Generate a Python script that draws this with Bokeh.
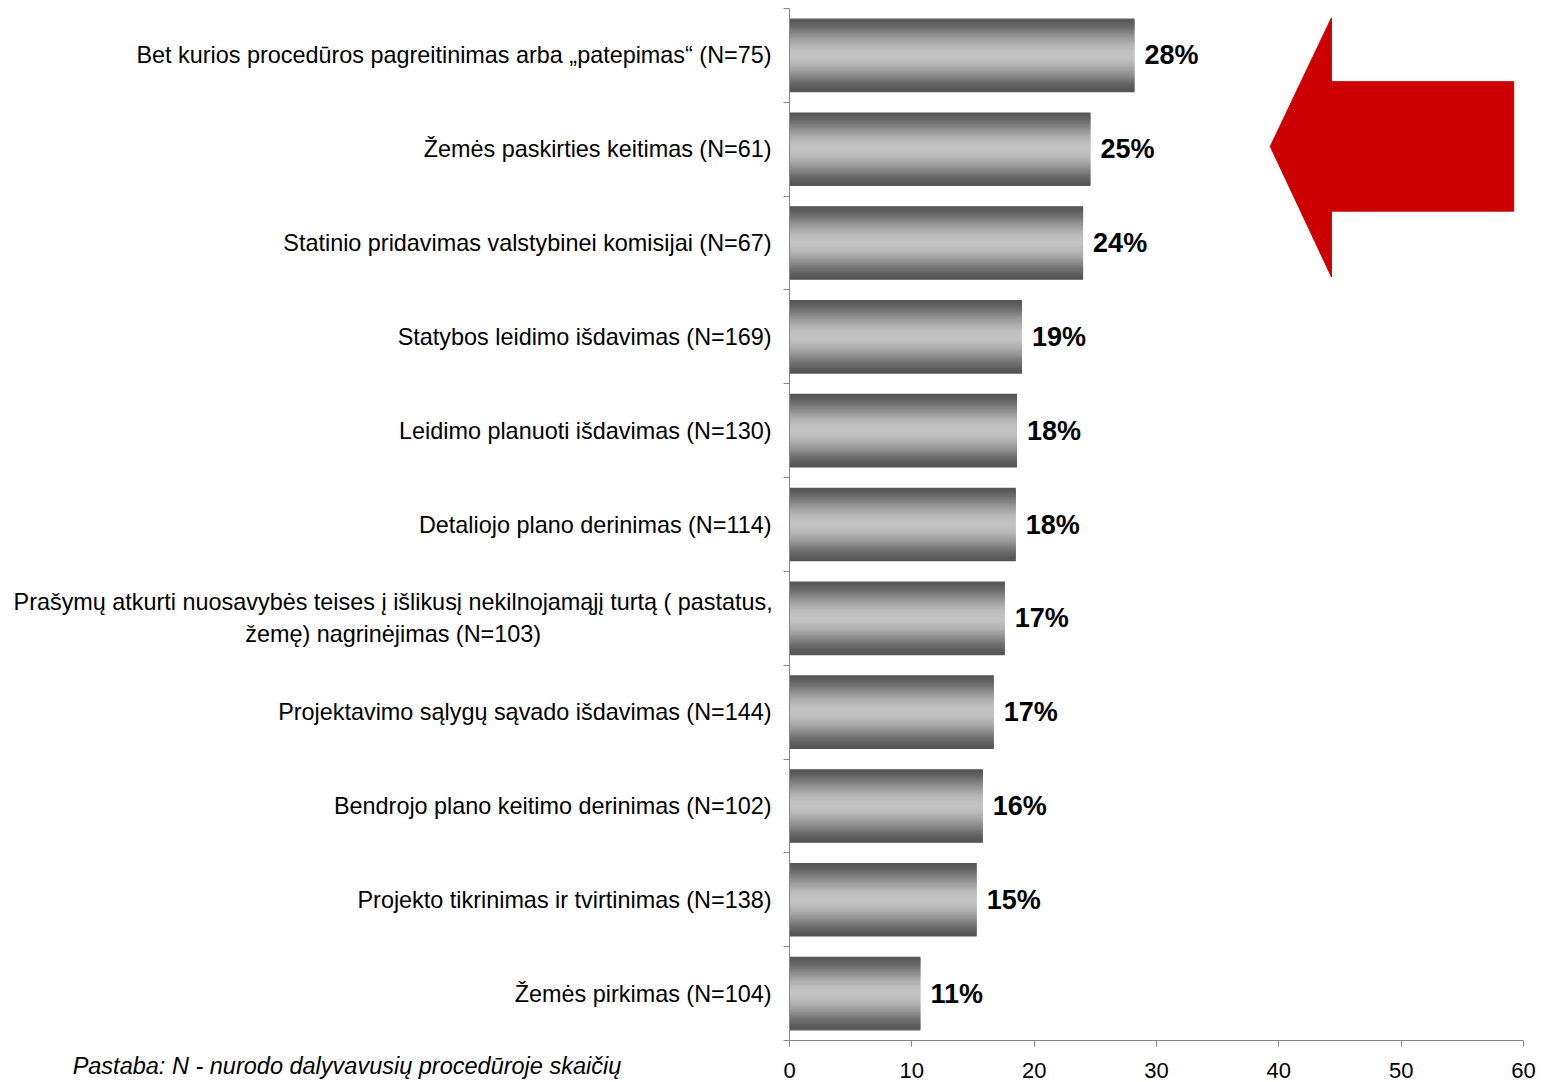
import numpy as np
from bokeh.plotting import figure
from bokeh.models import FixedTicker, Label, Range1d
from bokeh.embed import file_html
from bokeh.resources import INLINE
from bokeh.core.properties import value

# ---------------- data ----------------
categories = [
    "Bet kurios procedūros pagreitinimas arba „patepimas“ (N=75)",
    "Žemės paskirties keitimas (N=61)",
    "Statinio pridavimas valstybinei komisijai (N=67)",
    "Statybos leidimo išdavimas (N=169)",
    "Leidimo planuoti išdavimas (N=130)",
    "Detaliojo plano derinimas (N=114)",
    "Prašymų atkurti nuosavybės teises į išlikusį nekilnojamąjį turtą ( pastatus,\nžemę) nagrinėjimas (N=103)",
    "Projektavimo sąlygų sąvado išdavimas (N=144)",
    "Bendrojo plano keitimo derinimas (N=102)",
    "Projekto tikrinimas ir tvirtinimas (N=138)",
    "Žemės pirkimas (N=104)",
]
values = [28.2, 24.6, 24.0, 19.0, 18.6, 18.5, 17.6, 16.7, 15.8, 15.3, 10.7]
value_labels = ["28%", "25%", "24%", "19%", "18%", "18%", "17%", "17%", "16%", "15%", "11%"]
x_ticks = [0, 10, 20, 30, 40, 50, 60]
note_text = "Pastaba: N - nurodo dalyvavusių procedūroje skaičių"

# decorative arrow outline (data units of the chart)
ARROW_X = [39.3, 44.3, 44.3, 59.2, 59.2, 44.3, 44.3]
ARROW_Y = [9.53, 10.90, 10.22, 10.22, 8.84, 8.84, 8.14]

FONT = "Liberation Sans"
n = len(categories)
centers = [n - 0.5 - i for i in range(n)]
boundaries = [float(i) for i in range(n + 1)]

# layout (pixels): plotting area for the bars
W, H = 1542, 1082
AX_LEFT, AX_RIGHT, AX_TOP, AX_BOTTOM = 789, 1523, 8, 1040
XMAX = 60.0
px_x = (AX_RIGHT - AX_LEFT) / XMAX
px_y = (AX_BOTTOM - AX_TOP) / n
x_lo = -AX_LEFT / px_x
x_hi = XMAX + (W - AX_RIGHT) / px_x
y_hi = n + AX_TOP / px_y
y_lo = -(H - AX_BOTTOM) / px_y

p = figure(
    width=W, height=H, min_border=0,
    x_range=Range1d(x_lo, x_hi), y_range=Range1d(y_lo, y_hi),
    output_backend="svg", toolbar_location=None,
)
p.outline_line_color = None
p.xgrid.visible = False
p.ygrid.visible = False

# gradient bars built from thin strips
BAR_H = 0.785
STRIPS = 60
dark = np.array([0x55, 0x55, 0x55], dtype=float)
light = np.array([0xC2, 0xC2, 0xC2], dtype=float)
ys, rights, hs, cols = [], [], [], []
for k in range(STRIPS):
    t = (k + 0.5) / STRIPS
    f = 0.5 - 0.5 * np.cos(2 * np.pi * t)
    f = f ** 0.8
    c = dark + (light - dark) * f
    col = "#%02x%02x%02x" % tuple(int(round(v)) for v in c)
    step = BAR_H / STRIPS
    off = BAR_H / 2 - (k + 0.5) * step
    for cy, v in zip(centers, values):
        ys.append(cy + off)
        rights.append(v)
        hs.append(step * (2.0 if 0 < k < STRIPS - 1 else 1.0))
        cols.append(col)
p.hbar(y=ys, left=0, right=rights, height=hs, fill_color=cols, line_color=None)

# value labels
p.text(x=values, y=centers, text=value_labels, x_offset=10,
       text_baseline="middle", text_align="left",
       text_font=value(FONT), text_font_style="bold", text_font_size="27px",
       text_color="black")

# red arrow
p.patch(ARROW_X, ARROW_Y, fill_color="#cc0000", line_color="#cc0000")

# axes (placed at data zero inside the frame)
axis_col = "#868686"
long_idx = [i for i, c in enumerate(categories) if "\n" in c][0]
overrides = {c: lab for c, lab in zip(centers, categories)}
overrides[centers[long_idx]] = ""
p.yaxis.fixed_location = 0
p.yaxis.bounds = (0, n)
p.yaxis.ticker = FixedTicker(ticks=centers, minor_ticks=boundaries)
p.yaxis.major_label_overrides = overrides
p.yaxis.major_tick_out = 0
p.yaxis.major_tick_in = 0
p.yaxis.minor_tick_out = 6
p.yaxis.minor_tick_in = 0
p.yaxis.minor_tick_line_color = axis_col
p.yaxis.axis_line_color = axis_col
p.yaxis.major_label_text_font = FONT
p.yaxis.major_label_text_font_size = "23.4px"
p.yaxis.major_label_text_color = "black"
p.yaxis.major_label_standoff = 12

p.xaxis.fixed_location = 0
p.xaxis.bounds = (0, XMAX)
p.xaxis.ticker = FixedTicker(ticks=x_ticks)
p.xaxis.minor_tick_line_color = None
p.xaxis.major_tick_out = 6
p.xaxis.major_tick_in = 0
p.xaxis.major_tick_line_color = axis_col
p.xaxis.axis_line_color = axis_col
p.xaxis.major_label_text_font = FONT
p.xaxis.major_label_text_font_size = "22px"
p.xaxis.major_label_text_color = "black"
p.xaxis.major_label_standoff = 16

# two-line category label, lines centred on each other
lines = categories[long_idx].split("\n")
for j, line in enumerate(lines):
    p.add_layout(Label(x=-32.4, y=centers[long_idx], x_units="data", y_units="data",
                       y_offset=16 - 32 * j, text=line, text_align="center",
                       text_baseline="middle", text_font=FONT, text_font_size="23.4px",
                       text_color="black"))

note = Label(x=-58.6, y=0, x_units="data", y_units="data", y_offset=-25,
             text=note_text, text_font=FONT, text_font_style="italic",
             text_font_size="23.5px", text_baseline="middle", text_color="black")
p.add_layout(note)

open("out.html", "w").write(file_html(p, INLINE))
